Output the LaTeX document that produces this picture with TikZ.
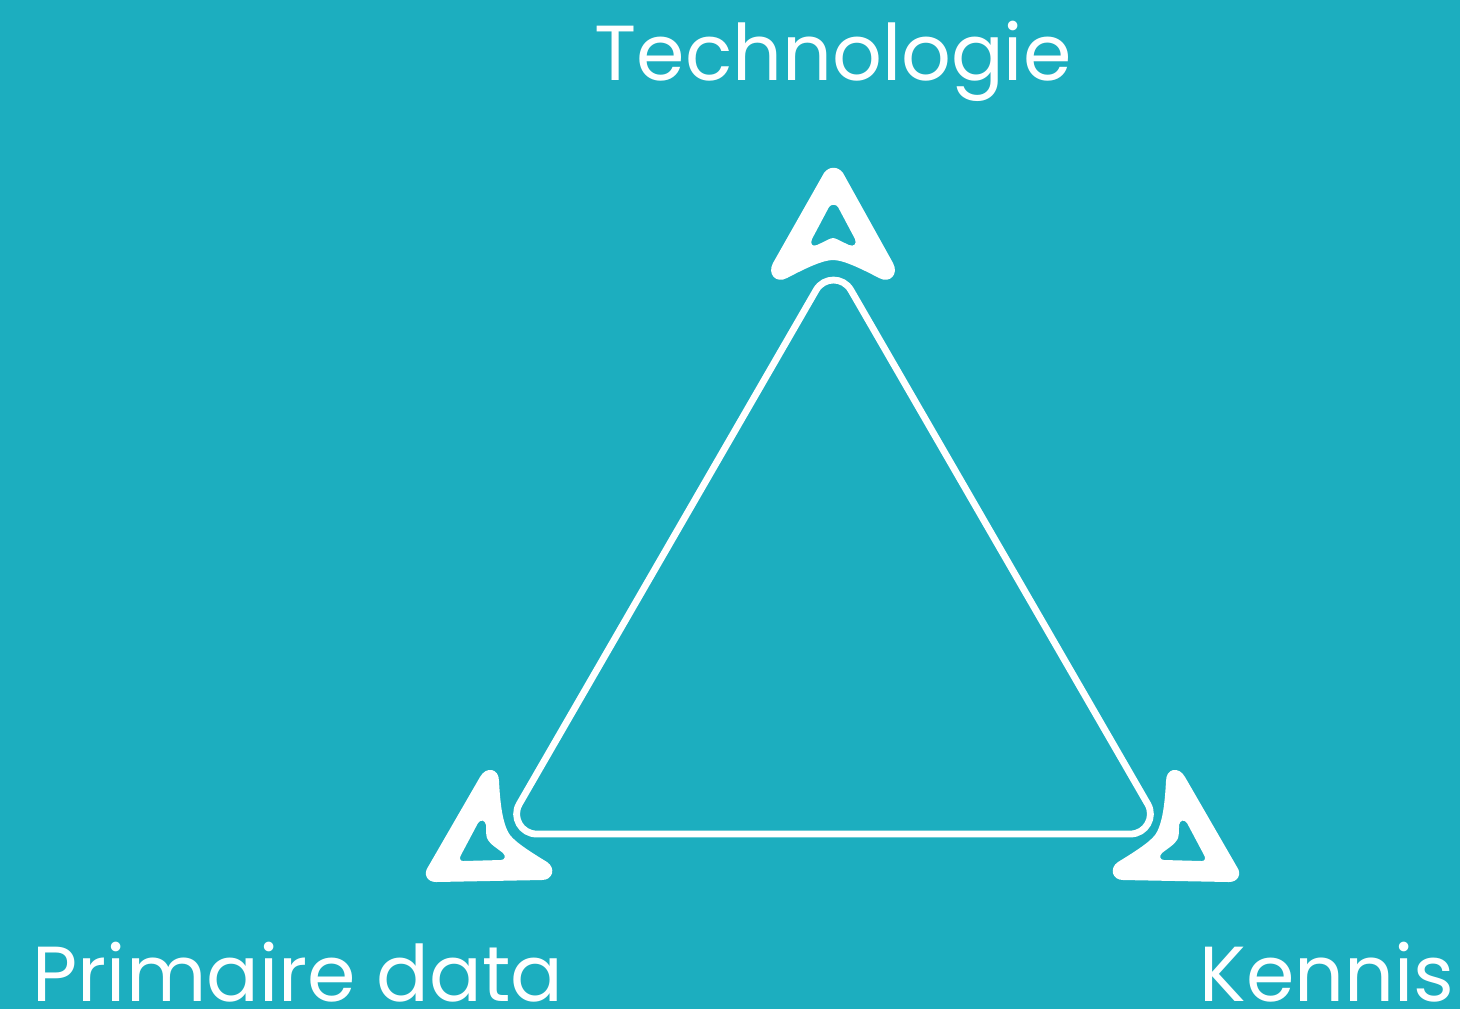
\documentclass[tikz,border=0pt]{standalone}
\usepackage{fontspec}
\setmainfont{Poppins}
\definecolor{tealbg}{HTML}{1CAEBF}
\tikzset{
  label/.style={text=white,inner sep=0pt,anchor=base,font=\fontsize{39}{47}\selectfont},
  marker/.style={fill=white,even odd rule,draw=none},
  outline/.style={draw=white,line width=3.4pt}
}
\begin{document}
\begin{tikzpicture}[x=0.5pt,y=-0.5pt]
  \useasboundingbox (0,0) rectangle (1460,1008);
  \fill[tealbg] (-5,-5) rectangle (1465,1013);

  \node[label] (tech) at (833,80) {Technologie};
  \node[label] (data) at (298,1001) {Primaire data};
  \node[label] (kennis) at (1327,1001) {Kennis};

  \draw[outline] (816.2,290) .. controls (823.9,276.7) and (843.1,276.7) .. (850.8,290)
    -- (1147.7,804) .. controls (1155.4,817.3) and (1145.8,834) .. (1130.4,834)
    -- (536.6,834) .. controls (521.2,834) and (511.6,817.3) .. (519.3,804) -- cycle;

  % top marker
  \fill[marker] (824,173) .. controls (829,166) and (838,166) .. (843,173)
    -- (893,263) .. controls (899,274) and (890,284) .. (879,278)
    .. controls (860,268) and (843,260) .. (833,260)
    .. controls (823,260) and (806,268) .. (787,278)
    .. controls (776,284) and (767,274) .. (773,263) -- cycle
    (829,207) .. controls (831,204) and (836,204) .. (838,207)
    -- (855,239) .. controls (857,244) and (854,247) .. (849,245)
    .. controls (842,242) and (836,238) .. (833,238)
    .. controls (830,238) and (824,242) .. (817,245)
    .. controls (812,247) and (810,244) .. (812,239) -- cycle;

  % left marker
  \fill[marker] (480,777) .. controls (486,766) and (499,768) .. (499,781)
    .. controls (500,800) and (502,824) .. (510,835)
    .. controls (516,843) and (534,854) .. (547,862)
    .. controls (556,868) and (553,880) .. (542,880)
    -- (436,882) .. controls (427,882) and (423,874) .. (428,867) -- cycle
    (478,823) .. controls (481,819) and (485,820) .. (486,825)
    .. controls (486,831) and (486,838) .. (488,840)
    .. controls (490,844) and (498,849) .. (503,853)
    .. controls (506,856) and (505,860) .. (501,860)
    -- (463,861) .. controls (460,861) and (459,858) .. (461,855) -- cycle;

  % right marker
  \fill[marker] (1185,777) .. controls (1179,766) and (1166,768) .. (1166,781)
    .. controls (1165,800) and (1163,824) .. (1155,835)
    .. controls (1149,843) and (1131,854) .. (1118,862)
    .. controls (1109,868) and (1112,880) .. (1123,880)
    -- (1229,882) .. controls (1238,882) and (1242,874) .. (1237,867) -- cycle
    (1187,823) .. controls (1184,819) and (1180,820) .. (1179,825)
    .. controls (1179,831) and (1179,838) .. (1177,840)
    .. controls (1175,844) and (1167,849) .. (1162,853)
    .. controls (1159,856) and (1160,860) .. (1164,860)
    -- (1202,861) .. controls (1205,861) and (1206,858) .. (1204,855) -- cycle;
\end{tikzpicture}
\end{document}
